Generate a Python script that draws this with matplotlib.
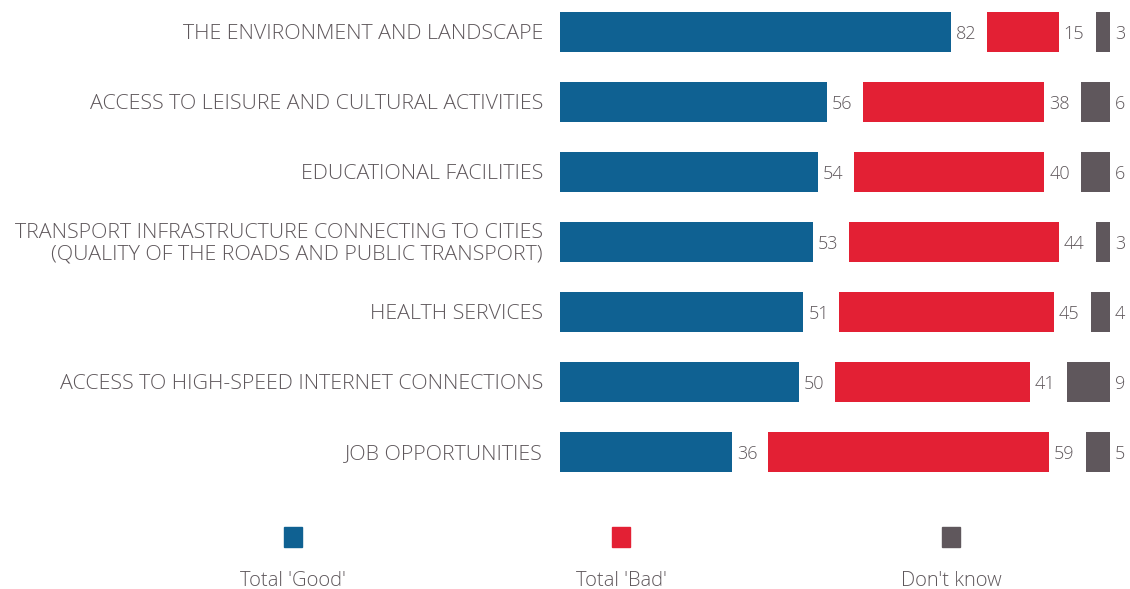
import numpy as np
import matplotlib.pyplot as plt
from matplotlib.patches import Rectangle

CATEGORIES = [
    "THE ENVIRONMENT AND LANDSCAPE",
    "ACCESS TO LEISURE AND CULTURAL ACTIVITIES",
    "EDUCATIONAL FACILITIES",
    "TRANSPORT INFRASTRUCTURE CONNECTING TO CITIES\n(QUALITY OF THE ROADS AND PUBLIC TRANSPORT)",
    "HEALTH SERVICES",
    "ACCESS TO HIGH-SPEED INTERNET CONNECTIONS",
    "JOB OPPORTUNITIES",
]
GOOD = [82, 56, 54, 53, 51, 50, 36]
BAD = [15, 38, 40, 44, 45, 41, 59]
DONT_KNOW = [3, 6, 6, 3, 4, 9, 5]
LEGEND_LABELS = ["Total 'Good'", "Total 'Bad'", "Don't know"]

BLUE = "#0f6192"
RED = "#e32034"
GREY = "#5f575c"
TEXT = "#5e575b"

W, H = 1130, 589
PX = 4.77            # pixels per percentage point
GAP = 36 / PX        # space between groups (room for the value label)
DK_RIGHT = 550 / PX  # right edge of the "don't know" bars

plt.rcParams["font.family"] = ["Open Sans", "DejaVu Sans"]

fig = plt.figure(figsize=(W / 100, H / 100), dpi=100)
ax = fig.add_axes([560 / W, (H - 487) / H, 570 / W, 487 / H])
ax.set_xlim(0, 570 / PX)
ax.set_ylim(6.5, -32 / 70)
ax.axis("off")

y = np.arange(len(CATEGORIES))
good = np.asarray(GOOD)
bad = np.asarray(BAD)
dk = np.asarray(DONT_KNOW)
bh = 0.58

ax.barh(y, good, height=bh, color=BLUE)
ax.barh(y, bad, left=good + GAP, height=bh, color=RED)
ax.barh(y, dk, left=DK_RIGHT - dk, height=bh, color=GREY)

lab = dict(va="center", ha="left", fontsize=13, color=TEXT, fontweight="light")
off = 5 / PX
dy = 2 / 70  # text sits a touch lower than bar centre
for i in range(len(y)):
    ax.text(good[i] + off, y[i] + dy, f"{good[i]}", **lab)
    ax.text(good[i] + GAP + bad[i] + off, y[i] + dy, f"{bad[i]}", **lab)
    ax.text(DK_RIGHT + off, y[i] + dy, f"{dk[i]}", **lab)
    ax.text(-17 / PX, y[i] + dy, CATEGORIES[i], ha="right", va="center",
            fontsize=15.4, color=TEXT, fontweight="light",
            linespacing=1.1, clip_on=False)

# legend drawn by hand: swatch above label
for cx, colour, text in zip([293, 621, 951], [BLUE, RED, GREY], LEGEND_LABELS):
    fig.patches.append(Rectangle(((cx - 9) / W, (H - 547) / H), 18 / W, 20 / H,
                                 transform=fig.transFigure, color=colour))
    fig.text(cx / W, (H - 581) / H, text, ha="center", va="center",
             fontsize=14.5, color=TEXT, fontweight="light")

fig.savefig("out.png", dpi=100)
